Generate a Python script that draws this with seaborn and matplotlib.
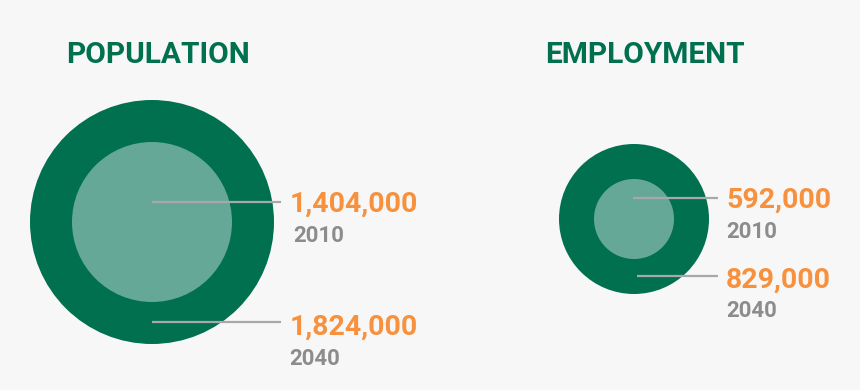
import matplotlib
matplotlib.use("Agg")
import matplotlib.pyplot as plt
from matplotlib.patches import Circle
import seaborn as sns

# data
panels = ["POPULATION", "EMPLOYMENT"]
years = ["2010", "2040"]
population = [1404000, 1824000]
employment = [592000, 829000]

# colours
BG = "#F7F7F7"
DARK = "#00704F"
LIGHT = "#66A898"
ORANGE = "#F7913D"
GREY = "#8C8C8C"
LINE = "#A8A8A8"

# layout in pixel coordinates (figure is 860x390)
layout = [
    dict(title_x=66, cx=152, cy=222, r_out=122, r_in=80,
         line_y=[202, 322], line_x0=[152, 152], line_x1=281, text_x=290,
         num_y=[212, 335], year_y=[242, 365], year_x=[293, 289]),
    dict(title_x=545, cx=634, cy=219, r_out=75, r_in=40,
         line_y=[198, 276], line_x0=[633, 637], line_x1=718, text_x=726,
         num_y=[208, 288], year_y=[238, 317], year_x=[726, 726]),
]

sns.set_theme(style="white")
plt.rcParams["font.family"] = ["Roboto", "DejaVu Sans"]

fig = plt.figure(figsize=(8.6, 3.9), dpi=100)
fig.patch.set_facecolor(BG)
ax = fig.add_axes([0, 0, 1, 1])
ax.set_facecolor(BG)
ax.set_xlim(0, 860)
ax.set_ylim(390, 0)
ax.set_aspect("equal")
ax.axis("off")

for title, values, lay in zip(panels, [population, employment], layout):
    ax.text(lay["title_x"], 63, title, color=DARK, fontsize=21.5,
            fontweight="bold", ha="left", va="baseline")
    ax.add_patch(Circle((lay["cx"], lay["cy"]), lay["r_out"], color=DARK, lw=0))
    ax.add_patch(Circle((lay["cx"], lay["cy"]), lay["r_in"], color=LIGHT, lw=0))
    for i, (yr, v) in enumerate(zip(years, values)):
        ax.plot([lay["line_x0"][i], lay["line_x1"]], [lay["line_y"][i]] * 2,
                color=LINE, lw=1.6, solid_capstyle="butt")
        ax.text(lay["text_x"], lay["num_y"][i], f"{v:,}", color=ORANGE,
                fontsize=20.5, fontweight="bold", ha="left", va="baseline")
        ax.text(lay["year_x"][i], lay["year_y"][i], yr, color=GREY,
                fontsize=16, fontweight="bold", ha="left", va="baseline")

fig.savefig("out.png", dpi=100, facecolor=BG)
